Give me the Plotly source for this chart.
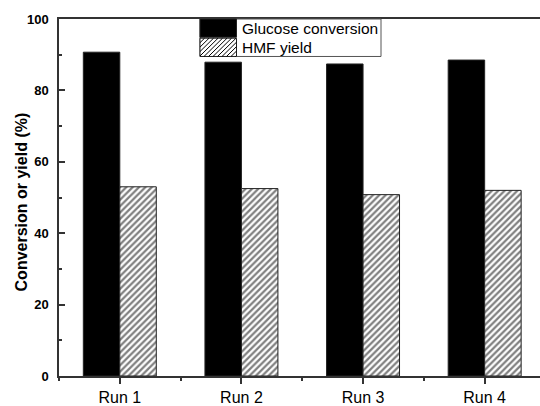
import plotly.graph_objects as go

runs = ["Run 1", "Run 2", "Run 3", "Run 4"]
run_pos = [0, 1, 2, 3]
glucose_conversion = [90.7, 87.9, 87.4, 88.5]
hmf_yield = [53.0, 52.5, 50.8, 52.0]
y_ticks = [0, 20, 40, 60, 80, 100]
series_names = ["Glucose conversion", "HMF yield"]

FONT = "Liberation Sans, Arial, sans-serif"
AX = "#333333"
W, H = 540, 406
ML, MR, MT, MB = 59, 0, 19, 25
PW, PH = W - ML - MR, H - MT - MB


def px(xp):
    return (xp - ML) / PW


def py(yp):
    return (H - MB - yp) / PH


fig = go.Figure()
fig.add_trace(go.Bar(
    x=run_pos, y=glucose_conversion, name=series_names[0],
    marker=dict(color="black", line=dict(color="#222222", width=1)),
))
fig.add_trace(go.Bar(
    x=run_pos, y=hmf_yield, name=series_names[1],
    marker=dict(color="white", line=dict(color="#222222", width=1),
                pattern=dict(shape="/", fgcolor="black", bgcolor="white",
                             size=4.5, solidity=0.5)),
))

# custom legend (box, swatches, labels)
LX0, LX1, LY0, LY1 = 200, 381, 19, 57
SW1 = 236.5
shapes = [
    dict(type="rect", xref="paper", yref="paper", x0=px(LX0), x1=px(LX1),
         y0=py(LY1), y1=py(LY0), line=dict(color="#555555", width=1),
         fillcolor="white", layer="above"),
    dict(type="rect", xref="paper", yref="paper", x0=px(LX0), x1=px(SW1),
         y0=py(37.5), y1=py(LY0), line=dict(color="#222222", width=1),
         fillcolor="black", layer="above"),
    dict(type="rect", xref="paper", yref="paper", x0=px(LX0), x1=px(SW1),
         y0=py(LY1), y1=py(38.5), line=dict(color="#222222", width=1),
         fillcolor="white", layer="above"),
]
# hatch lines for HMF swatch
hx0, hx1, hy0, hy1 = LX0, SW1, 38.5, LY1
step = 4.5
segs = []
c = hx0 - (hy1 - hy0)
while c < hx1:
    xa, ya = c, hy1
    xb, yb = c + (hy1 - hy0), hy0
    if xa < hx0:
        ya = hy1 - (hx0 - xa)
        xa = hx0
    if xb > hx1:
        yb = hy0 + (xb - hx1)
        xb = hx1
    if xa < xb:
        segs.append(f"M{px(xa)},{py(ya)}L{px(xb)},{py(yb)}")
    c += step
shapes.append(dict(type="path", xref="paper", yref="paper", path="".join(segs),
                   line=dict(color="black", width=1), layer="above"))

annotations = [
    dict(text=series_names[0], xref="paper", yref="paper", x=px(240), y=py(28.5),
         xanchor="left", yanchor="middle", showarrow=False,
         font=dict(size=15.5, family=FONT, color="black")),
    dict(text=series_names[1], xref="paper", yref="paper", x=px(240), y=py(47.5),
         xanchor="left", yanchor="middle", showarrow=False,
         font=dict(size=15.5, family=FONT, color="black")),
    dict(text="Conversion or yield (%)", xref="paper", yref="paper",
         x=px(21), y=py(205), textangle=-90, xanchor="center", yanchor="middle",
         showarrow=False, font=dict(size=16, family=FONT, color="black", weight="bold")),
]

fig.update_layout(
    width=W, height=H,
    margin=dict(l=ML, r=MR, t=MT, b=MB),
    paper_bgcolor="white", plot_bgcolor="white",
    barmode="group", bargap=0.4, bargroupgap=0,
    font=dict(family=FONT, color="black"),
    showlegend=False,
    shapes=shapes, annotations=annotations,
)
fig.update_xaxes(
    range=[-0.5, 3.455], tickmode="array", tickvals=run_pos, ticktext=runs,
    showline=True, linecolor=AX, linewidth=1.5, mirror=True,
    ticks="outside", ticklen=6, tickwidth=1.5, tickcolor=AX,
    minor=dict(tickmode="array", tickvals=[-0.5, 0.5, 1.5, 2.5],
               ticks="outside", ticklen=3, tickwidth=1.5, tickcolor=AX),
    tickfont=dict(size=16, family=FONT), showgrid=False, zeroline=False,
)
fig.update_yaxes(
    range=[0, 100], tickmode="array", tickvals=y_ticks,
    showline=True, linecolor=AX, linewidth=1.5, mirror=False,
    ticks="inside", ticklen=6, tickwidth=1.5, tickcolor=AX,
    minor=dict(dtick=10, ticks="inside", ticklen=3, tickwidth=1.5, tickcolor=AX),
    tickfont=dict(size=13, family=FONT, weight="bold"),
    ticklabelstandoff=6,
    showgrid=False, zeroline=False,
)

fig.write_html("out.html")
